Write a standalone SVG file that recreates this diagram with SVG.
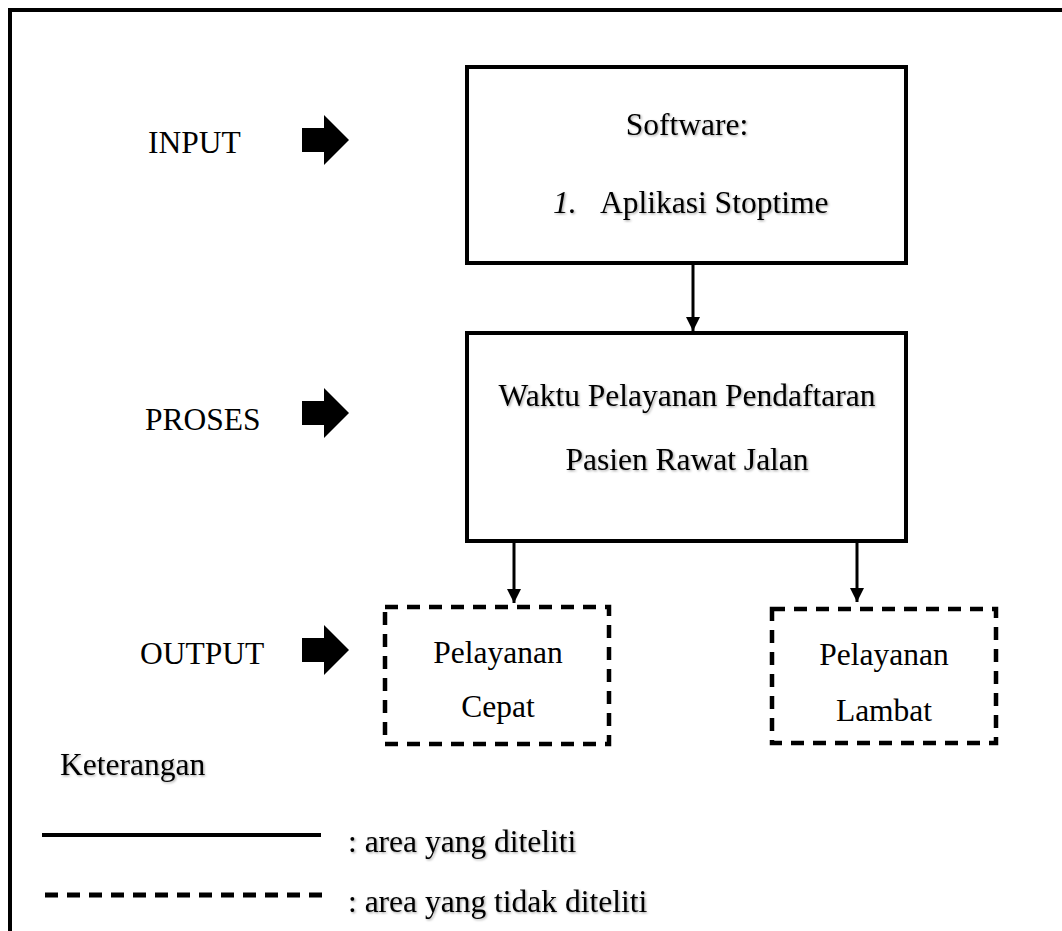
<svg xmlns="http://www.w3.org/2000/svg" width="1062" height="931" viewBox="0 0 1062 931">
<style>
text{font-family:"Liberation Serif","Times New Roman",serif;font-size:31.5px;fill:#000}
.c{text-anchor:middle}
.sh{filter:url(#shadow)}
.solid{fill:none;stroke:#000;stroke-width:4}
.dash{fill:none;stroke:#000;stroke-width:4.5;stroke-dasharray:13 9}
.ln{stroke:#000;stroke-width:3;fill:none}
.blk{fill:#000}
</style>
<defs>
<filter id="shadow" x="-5%" y="-30%" width="110%" height="160%">
<feDropShadow dx="1.2" dy="1.2" stdDeviation="0.8" flood-color="#000" flood-opacity="0.35"/>
</filter>
<marker id="ah" markerWidth="14" markerHeight="14" refX="14" refY="7" orient="auto" markerUnits="userSpaceOnUse">
<path d="M0,0 L14,7 L0,14 Z" fill="#000"/>
</marker>
</defs>
<rect width="1062" height="931" fill="#fff"/>
<g id="frame">
<line x1="8" y1="10" x2="1062" y2="10" stroke="#000" stroke-width="4"/>
<line x1="10" y1="8" x2="10" y2="931" stroke="#000" stroke-width="4"/>
</g>
<g id="label-input">
<text x="148" y="153">INPUT</text>
<path class="blk" d="M302,128 H324 V115 L349,140 L324,165 V152 H302 Z"/>
</g>
<g id="label-proses">
<text x="145" y="430">PROSES</text>
<path class="blk" d="M302,401 H324 V388 L349,413 L324,438 V425 H302 Z"/>
</g>
<g id="label-output">
<text x="140" y="664">OUTPUT</text>
<path class="blk" d="M302,638 H324 V625 L349,650 L324,675 V662 H302 Z"/>
</g>
<g id="node-software">
<rect class="solid" x="467" y="67" width="439" height="196"/>
<text class="c sh" x="687" y="135">Software:</text>
<text x="553" y="213" font-style="italic" class="sh">1.</text>
<text x="600" y="213" class="sh">Aplikasi Stoptime</text>
</g>
<g id="node-proses">
<rect class="solid" x="467" y="333" width="439" height="208"/>
<text class="c sh" x="687" y="406">Waktu Pelayanan Pendaftaran</text>
<text class="c sh" x="687" y="470">Pasien Rawat Jalan</text>
</g>
<g id="node-cepat">
<rect class="dash" x="385" y="607" width="224" height="137"/>
<text class="c" x="498" y="663">Pelayanan</text>
<text class="c" x="498" y="717">Cepat</text>
</g>
<g id="node-lambat">
<rect class="dash" x="772" y="609" width="224" height="134"/>
<text class="c" x="884" y="665">Pelayanan</text>
<text class="c" x="884" y="721">Lambat</text>
</g>
<g id="connectors">
<line class="ln" x1="693" y1="263" x2="693" y2="331" marker-end="url(#ah)"/>
<line class="ln" x1="514" y1="541" x2="514" y2="603" marker-end="url(#ah)"/>
<line class="ln" x1="857" y1="541" x2="857" y2="602" marker-end="url(#ah)"/>
</g>
<g id="legend">
<text x="60" y="775" class="sh">Keterangan</text>
<line x1="42" y1="835" x2="321" y2="835" stroke="#000" stroke-width="4"/>
<text x="348" y="852" class="sh">: area yang diteliti</text>
<line x1="45" y1="895" x2="323" y2="895" stroke="#000" stroke-width="5" stroke-dasharray="13 9"/>
<text x="348" y="912" class="sh">: area yang tidak diteliti</text>
</g>
</svg>
